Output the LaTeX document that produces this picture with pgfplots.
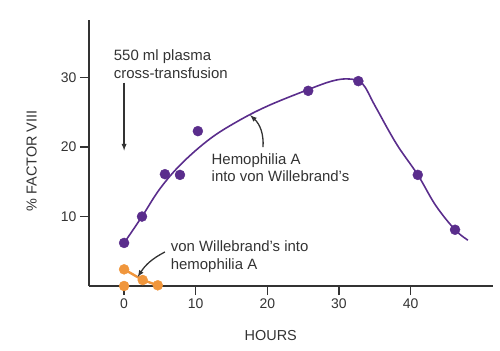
\documentclass[border=0pt]{standalone}
\usepackage{fontspec}
\setmainfont{Liberation Sans}
\usepackage{pgfplots}
\pgfplotsset{compat=1.18}
\definecolor{purp}{HTML}{5A2D8C}
\definecolor{orng}{HTML}{F0963C}
\definecolor{txt}{HTML}{333333}
\begin{document}
\begin{tikzpicture}[x=1bp,y=1bp]
\begin{axis}[
  scale only axis, width=404bp, height=266bp,
  xmin=-4.9, xmax=51.5, ymin=0, ymax=38.3,
  axis on top,
  axis lines=left, axis line style={line width=2.2pt, draw=txt, -},
  xtick={0,10,20,30,40}, ytick={10,20,30},
  tick style={line width=1.3pt, draw=txt},
  tick align=outside, major tick length=9bp,
  tick label style={font=\fontsize{14}{16}\selectfont, text=txt},
  /pgf/number format/assume math mode=true,
  xlabel={HOURS}, ylabel={\% FACTOR VIII},
  label style={font=\fontsize{14.5}{16}\selectfont, text=txt},
  xlabel style={at={(axis description cs:0.45,-0.186)}, anchor=center},
  ylabel style={at={(axis description cs:-0.142,0.47)}, anchor=center},
  clip=true,
]
% smooth curve hemophilia A into vWD
\addplot[purp, line width=1.6pt, smooth, tension=0.6] coordinates {
 (0,6.2) (2.5,10) (5,14) (8,17.6) (12,21.2) (16,23.8) (20,25.9) (25,28) (29,29.5) (31.5,29.8) (33.3,29.1) (35,26) (38,20.5) (41,16) (43.5,11.6) (46.2,8.1) (48,6.6)
};
\addplot[only marks, mark=*, mark size=5bp, purp] coordinates {
 (0,6.2) (2.5,10) (5.7,16.1) (7.8,16) (10.3,22.3) (25.7,28.1) (32.7,29.5) (41,16) (46.2,8.1)
};
% orange series
\addplot[orng, line width=2.4pt] coordinates {(0,2.4) (2.6,0.86) (4.7,0.1)};
\addplot[only marks, mark=*, mark size=5bp, orng] coordinates {
 (0,2.4) (0,0) (2.6,0.86) (4.7,0.1)
};
% annotations
\node[anchor=north west, align=left, text=txt, font=\fontsize{15}{17.5}\selectfont, inner sep=0pt]
  at (axis cs:-1.45,34.0) {550 ml plasma\\cross-transfusion};
\draw[-latex, line width=1.3pt, txt] (axis cs:0,29.3) -- (axis cs:0,19.5);
\node[anchor=north west, align=left, text=txt, font=\fontsize{15}{17.5}\selectfont, inner sep=0pt]
  at (axis cs:12.2,19.1) {Hemophilia A\\into von Willebrand's};
\draw[-latex, line width=1.3pt, txt] (axis cs:19.4,20) to[bend right=25] (axis cs:17.6,24.6);
\node[anchor=north west, align=left, text=txt, font=\fontsize{15}{17.5}\selectfont, inner sep=0pt]
  at (axis cs:6.5,6.5) {von Willebrand's into\\hemophilia A};
\draw[-latex, line width=1.3pt, txt] (axis cs:5.7,4.9) to[bend right=15] (axis cs:1.9,1.3);
\end{axis}
\path (current axis.south west) ++(-89bp,-65bp) rectangle ++(500bp,351bp);
\end{tikzpicture}
\end{document}
